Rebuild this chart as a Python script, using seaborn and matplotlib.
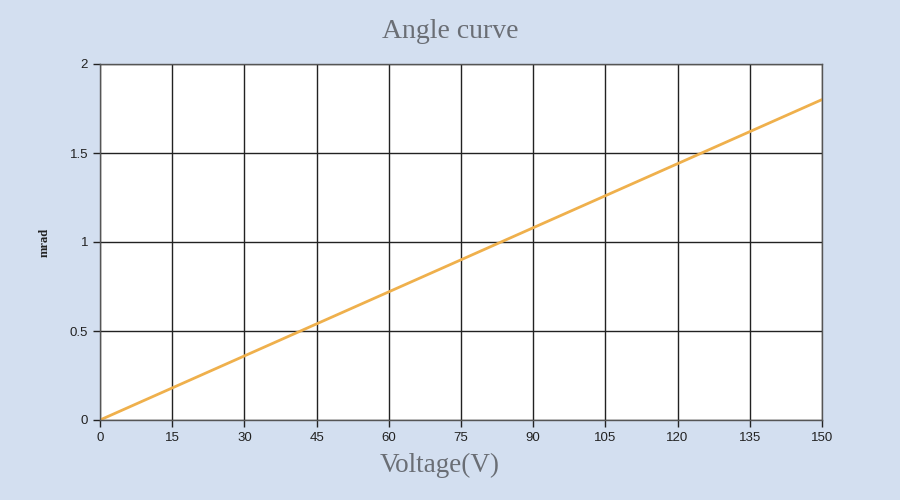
import matplotlib
matplotlib.use("Agg")
import matplotlib.pyplot as plt
import pandas as pd
import seaborn as sns

voltage = [0, 15, 30, 45, 60, 75, 90, 105, 120, 135, 150]
angle_mrad = [0, 0.18, 0.36, 0.54, 0.72, 0.90, 1.08, 1.26, 1.44, 1.62, 1.80]
x_ticks = [0, 15, 30, 45, 60, 75, 90, 105, 120, 135, 150]
y_ticks = [0, 0.5, 1, 1.5, 2]
y_tick_labels = ["0", "0.5", "1", "1.5", "2"]

df = pd.DataFrame({"voltage": voltage, "angle": angle_mrad})

sns.set_style("white")
plt.rcParams["font.family"] = ["Liberation Sans", "DejaVu Sans"]

bg = "#d3dff0"
fig = plt.figure(figsize=(9, 5), dpi=100, facecolor=bg)
ax = fig.add_axes([0.1111, 0.16, 0.8022, 0.712])
ax.set_facecolor("white")

sns.lineplot(data=df, x="voltage", y="angle", ax=ax, color="#efb04c", linewidth=2)

ax.set_xlim(0, 150)
ax.set_ylim(0, 2)
ax.set_xticks(x_ticks)
ax.set_yticks(y_ticks)
ax.set_yticklabels(y_tick_labels)
ax.grid(True, color="#222222", linewidth=1)
ax.set_axisbelow(True)
for s in ax.spines.values():
    s.set_color("#555555")
    s.set_linewidth(1)
ax.tick_params(axis="both", labelsize=9.5, colors="#222222", length=5, width=1,
               direction="out", bottom=True, left=True)

serif = ["Liberation Serif", "DejaVu Serif"]
ax.set_xlabel("Voltage(V)", fontsize=19.5, color="#6a6e75", family=serif)
ax.xaxis.set_label_coords(0.471, -0.093)
ax.set_ylabel("mrad", fontsize=9, color="#222222", family=serif, labelpad=14,
              fontweight="bold")
fig.text(0.5, 0.938, "Angle curve", ha="center", va="center", fontsize=20,
         color="#6a6e75", family=serif)

fig.savefig("out.png", dpi=100, facecolor=bg)
